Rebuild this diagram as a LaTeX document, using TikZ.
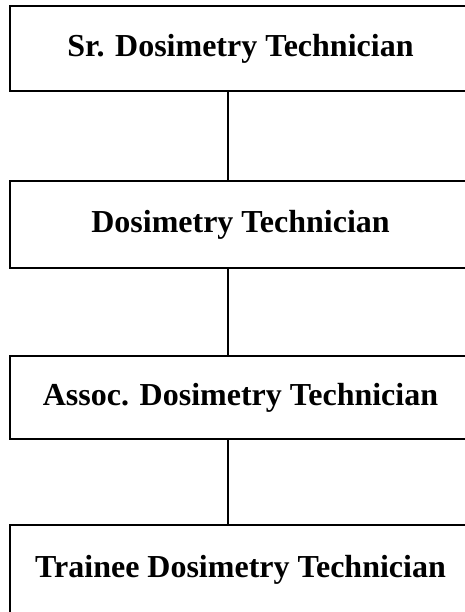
\documentclass[tikz,border=0pt]{standalone}
\usepackage{fontspec}
\setmainfont{Liberation Serif}
\usetikzlibrary{positioning}

\tikzset{
	rankbox/.style={draw, line width=2pt, rectangle, inner sep=0pt,
		minimum width=462pt, minimum height=85pt,
		font=\fontsize{32}{36}\selectfont\bfseries},
	link/.style={line width=2pt}
}

\begin{document}
\begin{tikzpicture}[x=1pt, y=-1pt]
	\useasboundingbox (0,0) rectangle (465,612);
	\def\boxX{240.5};

	%ranks
	\node[rankbox] (senior) at (\boxX, 48.5) {Sr. Dosimetry Technician};
	\node[rankbox, minimum height=86pt] (tech) at (\boxX, 224.5) {Dosimetry Technician};
	\node[rankbox, minimum height=83pt] (assoc) at (\boxX, 397.5) {Assoc. Dosimetry Technician};
	\node[rankbox, minimum height=90pt] (trainee) at (\boxX, 570) {Trainee Dosimetry Technician};

	%links
	\coordinate (trunk) at (228, 0);
	\draw[link] (senior.south -| trunk) -- (tech.north -| trunk);
	\draw[link] (tech.south -| trunk) -- (assoc.north -| trunk);
	\draw[link] (assoc.south -| trunk) -- (trainee.north -| trunk);
\end{tikzpicture}
\end{document}
